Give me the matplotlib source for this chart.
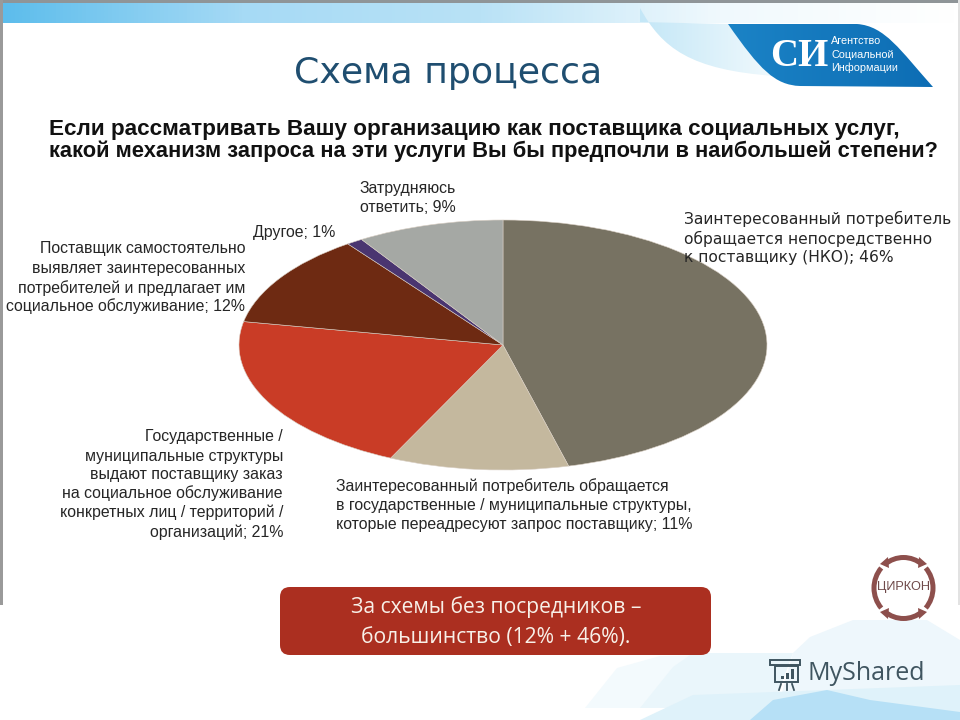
import numpy as np
import matplotlib
matplotlib.use("Agg")
import matplotlib.pyplot as plt
from matplotlib.patches import Polygon, FancyBboxPatch, PathPatch, Arc, Rectangle
from matplotlib.path import Path
from matplotlib.colors import LinearSegmentedColormap

shares = [46, 11, 21, 12, 1, 9]
slice_colors = ["#777262", "#c4b89e", "#c93c26", "#6e2a12", "#4a3570", "#a5a8a4"]
title = "Схема процесса"
question = ["Если рассматривать Вашу организацию как поставщика социальных услуг,",
            "какой механизм запроса на эти услуги Вы бы предпочли в наибольшей степени?"]
label_46 = ["Заинтересованный потребитель", "обращается непосредственно", "к поставщику (НКО); 46%"]
label_9 = ["Затрудняюсь", "ответить; 9%"]
label_1 = "Другое; 1%"
label_12 = ["Поставщик самостоятельно", "выявляет заинтересованных", "потребителей и предлагает им", "социальное обслуживание; 12%"]
label_21 = ["Государственные /", "муниципальные структуры", "выдают поставщику заказ", "на социальное обслуживание", "конкретных лиц / территорий /", "организаций; 21%"]
label_11 = ["Заинтересованный потребитель обращается", "в государственные / муниципальные структуры,", "которые переадресуют запрос поставщику; 11%"]
callout = ["За схемы без посредников –", "большинство (12% + 46%)."]
logo_lines = ["Агентство", "Социальной", "Информации"]

fig = plt.figure(figsize=(9.6, 7.2), dpi=100, facecolor="white")
bg = fig.add_axes([0, 0, 1, 1])
bg.set_xlim(0, 960); bg.set_ylim(720, 0); bg.axis("off")


def grad(ax, extent, colors, path=None, z=1, vertical=False):
    cm = LinearSegmentedColormap.from_list("g", colors)
    d = np.linspace(0, 1, 256)
    d = d[:, None] if vertical else d[None, :]
    im = ax.imshow(d, extent=extent, cmap=cm, aspect="auto", zorder=z, interpolation="bilinear")
    if path is not None:
        patch = PathPatch(path, transform=ax.transData, fc="none", ec="none")
        ax.add_patch(patch)
        im.set_clip_path(patch)
    return im


def curve(*segments):
    verts, codes = [segments[0]], [Path.MOVETO]
    for s in segments[1:]:
        if len(s) == 2:
            verts.append(s); codes.append(Path.LINETO)
        else:
            verts += [(s[0], s[1]), (s[2], s[3]), (s[4], s[5])]
            codes += [Path.CURVE4] * 3
    verts.append(segments[0]); codes.append(Path.CLOSEPOLY)
    return Path(verts, codes)


# frame and header band
grad(bg, (2, 960, 23, 3), ["#5dbdec", "#a6daf5", "#b9e2f6", "#f0f9fd", "#ffffff"], z=1)
bg.add_patch(Rectangle((0, 0), 960, 3, fc="#8f9598", ec="none", zorder=2))
bg.add_patch(Rectangle((0, 0), 2.5, 605, fc="#9a9a9a", ec="none", zorder=2))
bg.add_patch(Rectangle((957.5, 0), 2.5, 605, fc="#e2e2e2", ec="none", zorder=2))

# top right swoosh
swoosh = curve((640, 8), (662, 48, 690, 70, 775, 76), (728, 24), (640, 22))
grad(bg, (640, 780, 80, 8), ["#c4e7f7", "#f2fafd"], path=swoosh, z=2)

# agency logo
blue = curve((728, 24), (857, 24), (885, 26, 900, 50, 933, 87), (800, 86),
             (775, 85, 760, 70, 728, 24))
grad(bg, (728, 933, 24, 87), ["#1b83c6", "#0d6db4"], path=blue, z=3)
bg.text(799, 56, "СИ", color="white", family="Liberation Serif", fontweight="bold",
        fontsize=28, ha="center", va="center", zorder=4)
for y, s in zip((41.5, 55, 68), logo_lines):
    bg.text(831, y, s, color="white", family="Liberation Sans", fontsize=7.8,
            ha="left", va="center", zorder=4)

# bottom right decoration
deco = [
    ([(585, 708), (617, 668), (660, 656), (793, 653), (700, 708)], "#f3fafd"),
    ([(640, 708), (673, 667), (693, 653), (793, 653), (773, 707)], "#eaf6fb"),
    ([(810, 637), (853, 620), (927, 620), (960, 640), (960, 700), (780, 700), (793, 653)], "#eef7fc"),
    ([(640, 720), (693, 695), (960, 685), (960, 720)], "#dff2fa"),
    ([(750, 720), (773, 700), (827, 690), (870, 700), (960, 712), (960, 720)], "#b6e0f6"),
]
for pts, c in deco:
    bg.add_patch(Polygon(pts, closed=True, fc=c, ec="none", zorder=1))

# pie, elliptical like the slide
pie_ax = fig.add_axes([239 / 960, (720 - 470) / 720, 528 / 960, 250 / 720])
pie_ax.pie(shares, colors=slice_colors, startangle=90, counterclock=False, radius=1,
           wedgeprops=dict(linewidth=0.4, edgecolor="#d9cfc4"))
pie_ax.set_aspect("auto")
pie_ax.set_xlim(-1, 1); pie_ax.set_ylim(-1, 1)
pie_ax.patch.set_alpha(0)

# overlay for text
fg = fig.add_axes([0, 0, 1, 1])
fg.set_xlim(0, 960); fg.set_ylim(720, 0); fg.axis("off"); fg.patch.set_alpha(0)

fg.text(448, 73, title, color="#1f4e70", family="DejaVu Sans", fontsize=26.2,
        ha="center", va="center")
for y, s, size in zip((129, 151), question, (16.2, 15.75)):
    fg.text(49, y, s, color="#111111", family="Liberation Sans", fontweight="bold",
            fontsize=size, ha="left", va="center")


def block(lines, x, ys, ha, fam="Liberation Sans", size=11.4):
    for y, s in zip(ys, lines):
        fg.text(x, y, s, color="#262626", family=fam, fontsize=size, ha=ha, va="center")


block(label_46, 684, (219, 238.5, 257.5), "left", fam="DejaVu Sans", size=11.2)
block(label_9, 408, (188, 207), "center")
block([label_1], 294, (233,), "center")
block(label_12, 245, (249, 268.5, 288, 306.5), "right")
block(label_21, 283, (437, 456, 475, 493.5, 512.5, 532.5), "right")
block(label_11, 336, (486, 505.5, 525), "left")

# call-out
fg.add_patch(FancyBboxPatch((280, 587), 431, 68, boxstyle="round,pad=0,rounding_size=10",
                            fc="#ab2f20", ec="none", zorder=2))
for y, s in zip((607, 637), callout):
    fg.text(496, y, s, color="#f8f0e8", family="Open Sans", fontsize=15.2,
            ha="center", va="center", zorder=3)

# circular logo
ring = "#8d4f4c"
for t1, t2 in ((52, 128), (138, 222), (232, 308), (318, 402)):
    fg.add_patch(Arc((903.5, 588), 59, 61, theta1=t1, theta2=t2, color=ring, lw=3.6))
for pts in ([(880, 564), (888, 557), (889, 568)], [(927, 564), (919, 557), (918, 568)],
            [(880, 612), (888, 619), (889, 608)], [(927, 612), (919, 619), (918, 608)]):
    fg.add_patch(Polygon(pts, closed=True, fc=ring, ec="none"))
fg.text(904, 587, "ЦИРКОН", color="#6f4a4a", family="Liberation Sans", fontsize=9.2,
        ha="center", va="center", zorder=5)

# MyShared watermark
ink = "#3f5560"
fg.text(808, 674, "MyShared", color=ink, family="Open Sans", fontsize=18,
        ha="left", va="center", zorder=3)
fg.add_patch(Rectangle((775, 666), 23, 16, fc="none", ec=ink, lw=1.4, zorder=3))
fg.add_patch(Rectangle((770, 660), 30, 5, fc="none", ec=ink, lw=1.4, zorder=3))
for dx, h in zip((781, 786, 791), (3, 6, 10)):
    fg.add_patch(Rectangle((dx, 679 - h), 3, h, fc=ink, ec="none", zorder=3))
for x0, x1 in ((781, 779), (786.5, 786.5), (792, 794)):
    fg.plot([x0, x1], [684, 690], color=ink, lw=1.3)
fg.set_xlim(0, 960); fg.set_ylim(720, 0)

bg.set_xlim(0, 960); bg.set_ylim(720, 0)
fig.savefig("out.png", dpi=100)
